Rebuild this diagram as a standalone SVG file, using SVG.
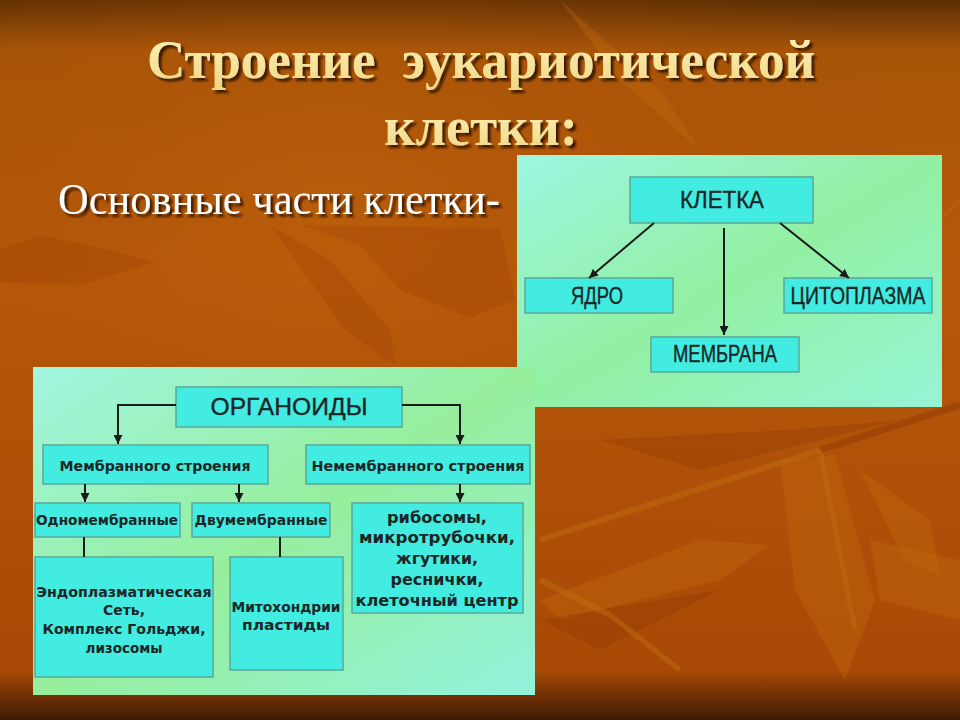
<svg xmlns="http://www.w3.org/2000/svg" width="960" height="720" viewBox="0 0 960 720">
<defs>
<linearGradient id="bg" x1="0" y1="0" x2="0" y2="1">
<stop offset="0" stop-color="#5a2e04"/>
<stop offset="0.07" stop-color="#a85508"/>
<stop offset="0.4" stop-color="#b6580a"/>
<stop offset="0.93" stop-color="#a84a06"/>
<stop offset="1" stop-color="#3e1a03"/>
</linearGradient>
<radialGradient id="glow" cx="0.35" cy="0.3" r="0.6">
<stop offset="0" stop-color="#c0640c" stop-opacity="0.5"/>
<stop offset="1" stop-color="#a04404" stop-opacity="0"/>
</radialGradient>
<linearGradient id="p1" x1="0" y1="0" x2="1" y2="1">
<stop offset="0" stop-color="#9ef6e2"/>
<stop offset="0.5" stop-color="#92f0a2"/>
<stop offset="1" stop-color="#96f4d6"/>
</linearGradient>
<linearGradient id="p2" x1="0" y1="0" x2="1" y2="1">
<stop offset="0" stop-color="#a0f6e0"/>
<stop offset="0.5" stop-color="#96ee9c"/>
<stop offset="1" stop-color="#92f2dc"/>
</linearGradient>
<linearGradient id="tg" x1="0" y1="0" x2="0" y2="1">
<stop offset="0" stop-color="#fff4c0"/>
<stop offset="1" stop-color="#f0d680"/>
</linearGradient>
<filter id="sh" x="-5%" y="-20%" width="110%" height="150%">
<feDropShadow dx="3" dy="3" stdDeviation="1.2" flood-color="#2a1000" flood-opacity="0.85"/>
</filter>
<marker id="ar" viewBox="0 0 10 10" refX="10" refY="5" markerWidth="9" markerHeight="9" markerUnits="userSpaceOnUse" orient="auto">
<path d="M0,0 L10,5 L0,10 z" fill="#1a1a1a"/>
</marker>
<style>
.box{fill:#42ece0;stroke:#5aa898;stroke-width:1.5}
.big{font-family:"Liberation Sans",Arial,sans-serif;font-size:23px;fill:#1c2626;stroke:#1c2626;stroke-width:0.35;text-anchor:middle}
.sm{font-family:"DejaVu Sans",Verdana,sans-serif;font-weight:bold;font-size:14px;fill:#1c2626;text-anchor:middle}
.rb{font-size:16px}
.ln{stroke:#1a1a1a;stroke-width:2;fill:none}
.title{font-family:"Liberation Serif","Times New Roman",serif;font-weight:bold;font-size:55px;fill:url(#tg);text-anchor:middle}
.sub{font-family:"Liberation Serif","Times New Roman",serif;font-size:44px;fill:#ffffff}
.leaf{fill:#c87010;opacity:0.3}
.leafd{fill:#8a3404;opacity:0.3}
.leafs{fill:#8a3404;opacity:0.18}
</style>
</defs>

<rect x="0" y="0" width="960" height="720" fill="url(#bg)"/>
<rect x="0" y="0" width="960" height="720" fill="url(#glow)"/>
<g id="background-leaves">
<path class="leaf" d="M560,0 L620,80 L700,150 L660,90 Z"/>
<path class="leafs" d="M0,250 L40,235 L100,248 L155,262 L80,285 L0,282 Z"/>
<path class="leafs" d="M270,225 L330,260 L390,330 L395,365 L345,330 Z"/>
<path class="leafs" d="M300,225 L500,228 L515,300 L470,318 L400,290 L360,245 Z"/>
<path class="leafd" d="M600,440 L790,430 L900,420 L700,470 Z"/>
<path class="leaf" d="M540,600 L700,540 L770,545 L720,580 L560,620 Z"/>
<path class="leaf" d="M780,460 L835,455 L875,600 L845,680 L795,590 Z"/>
<path class="leaf" d="M860,470 L930,520 L940,575 L905,560 Z"/>
<path class="leaf" d="M870,540 L960,560 L960,620 L880,600 Z"/>
<path class="leafd" d="M540,620 L720,590 L600,650 Z"/>
<line x1="540" y1="540" x2="820" y2="450" stroke="#c07010" stroke-width="6" opacity="0.45"/>
<line x1="820" y1="450" x2="960" y2="405" stroke="#8a3404" stroke-width="7" opacity="0.4"/>
<line x1="820" y1="450" x2="855" y2="630" stroke="#c07010" stroke-width="5" opacity="0.4"/>
<line x1="540" y1="580" x2="610" y2="615" stroke="#c07010" stroke-width="6" opacity="0.45"/>
<line x1="610" y1="615" x2="680" y2="670" stroke="#c07010" stroke-width="5" opacity="0.45"/>
<line x1="860" y1="300" x2="960" y2="200" stroke="#c07010" stroke-width="4" opacity="0.3"/>
</g>

<g id="title">
<text class="title" x="481" y="78" textLength="668" lengthAdjust="spacingAndGlyphs" filter="url(#sh)" xml:space="preserve">Строение  эукариотической</text>
<text class="title" x="481" y="145" textLength="194" lengthAdjust="spacingAndGlyphs" filter="url(#sh)">клетки:</text>
</g>
<g id="subtitle">
<text class="sub" x="58" y="214" textLength="442" lengthAdjust="spacingAndGlyphs" filter="url(#sh)">Основные части клетки-</text>
</g>

<g id="panel-cell">
<rect x="517" y="155" width="425" height="252" fill="url(#p1)"/>
<g id="node-kletka">
<rect class="box" x="630" y="177" width="183" height="46"/>
<text class="big" x="722" y="208" textLength="84" lengthAdjust="spacingAndGlyphs">КЛЕТКА</text>
</g>
<g id="node-yadro">
<rect class="box" x="525" y="278" width="148" height="35"/>
<text class="big" x="597" y="304" textLength="52" lengthAdjust="spacingAndGlyphs">ЯДРО</text>
</g>
<g id="node-citoplazma">
<rect class="box" x="784" y="278" width="148" height="35"/>
<text class="big" x="858" y="304" textLength="135" lengthAdjust="spacingAndGlyphs">ЦИТОПЛАЗМА</text>
</g>
<g id="node-membrana">
<rect class="box" x="651" y="337" width="148" height="35"/>
<text class="big" x="725" y="362" textLength="104" lengthAdjust="spacingAndGlyphs">МЕМБРАНА</text>
</g>
<g id="connectors-cell">
<line class="ln" x1="654" y1="223" x2="589" y2="278" marker-end="url(#ar)"/>
<line class="ln" x1="724" y1="228" x2="724" y2="335" marker-end="url(#ar)"/>
<line class="ln" x1="780" y1="223" x2="849" y2="278" marker-end="url(#ar)"/>
</g>
</g>

<g id="panel-organoids">
<rect x="33" y="367" width="502" height="328" fill="url(#p2)"/>
<g id="node-organoidy">
<rect class="box" x="176" y="387" width="226" height="40"/>
<text class="big" x="289" y="415" style="font-size:24px" textLength="157" lengthAdjust="spacingAndGlyphs">ОРГАНОИДЫ</text>
</g>
<g id="node-membr">
<rect class="box" x="43" y="445" width="225" height="39"/>
<text class="sm" x="155" y="471" textLength="191" lengthAdjust="spacingAndGlyphs">Мембранного строения</text>
</g>
<g id="node-nemembr">
<rect class="box" x="306" y="445" width="224" height="39"/>
<text class="sm" x="418" y="471" textLength="213" lengthAdjust="spacingAndGlyphs">Немембранного строения</text>
</g>
<g id="node-odno">
<rect class="box" x="35" y="503" width="145" height="34"/>
<text class="sm" x="107" y="525" textLength="142" lengthAdjust="spacingAndGlyphs">Одномембранные</text>
</g>
<g id="node-dvu">
<rect class="box" x="192" y="503" width="138" height="34"/>
<text class="sm" x="261" y="525" textLength="133" lengthAdjust="spacingAndGlyphs">Двумембранные</text>
</g>
<g id="node-ribosomy">
<rect class="box" x="352" y="503" width="171" height="110"/>
<text class="sm rb" x="437" y="523" textLength="100" lengthAdjust="spacingAndGlyphs">рибосомы,</text>
<text class="sm rb" x="437" y="543" textLength="156" lengthAdjust="spacingAndGlyphs">микротрубочки,</text>
<text class="sm rb" x="437" y="564" textLength="82" lengthAdjust="spacingAndGlyphs">жгутики,</text>
<text class="sm rb" x="437" y="585" textLength="93" lengthAdjust="spacingAndGlyphs">реснички,</text>
<text class="sm rb" x="437" y="606" textLength="163" lengthAdjust="spacingAndGlyphs">клеточный центр</text>
</g>
<g id="node-endo">
<rect class="box" x="35" y="557" width="178" height="120"/>
<text class="sm" x="124" y="597" textLength="175" lengthAdjust="spacingAndGlyphs">Эндоплазматическая</text>
<text class="sm" x="124" y="615" textLength="42" lengthAdjust="spacingAndGlyphs">Сеть,</text>
<text class="sm" x="124" y="634" textLength="163" lengthAdjust="spacingAndGlyphs">Комплекс Гольджи,</text>
<text class="sm" x="124" y="653" textLength="77" lengthAdjust="spacingAndGlyphs">лизосомы</text>
</g>
<g id="node-mito">
<rect class="box" x="230" y="557" width="113" height="113"/>
<text class="sm" x="286" y="612" textLength="109" lengthAdjust="spacingAndGlyphs">Митохондрии</text>
<text class="sm" x="286" y="630" textLength="88" lengthAdjust="spacingAndGlyphs">пластиды</text>
</g>
<g id="connectors-organoids">
<polyline class="ln" points="176,405 118,405 118,444" marker-end="url(#ar)"/>
<polyline class="ln" points="402,405 460,405 460,444" marker-end="url(#ar)"/>
<line class="ln" x1="85" y1="484" x2="85" y2="502" marker-end="url(#ar)"/>
<line class="ln" x1="239" y1="484" x2="239" y2="502" marker-end="url(#ar)"/>
<line class="ln" x1="460" y1="484" x2="460" y2="502" marker-end="url(#ar)"/>
<line class="ln" x1="84" y1="537" x2="84" y2="557"/>
<line class="ln" x1="280" y1="537" x2="280" y2="557"/>
</g>
</g>
</svg>
